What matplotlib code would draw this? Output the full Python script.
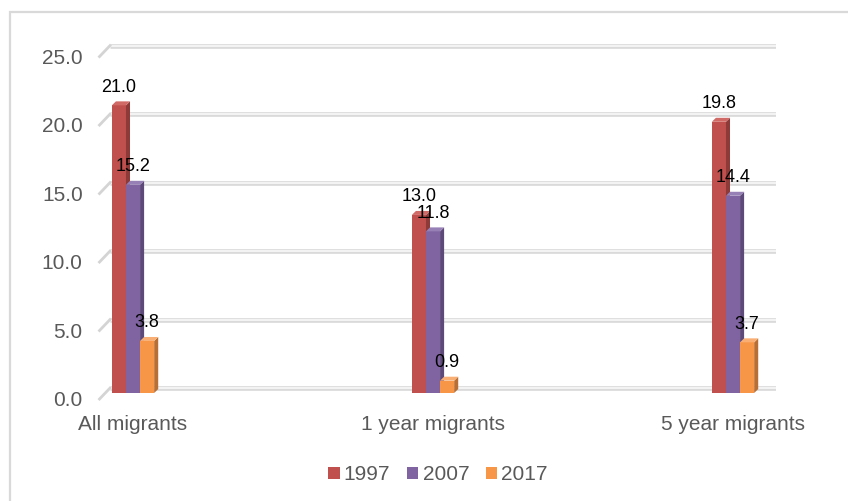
import matplotlib
matplotlib.use("Agg")
import matplotlib.pyplot as plt
from matplotlib.patches import Polygon, Rectangle, Patch
from matplotlib.transforms import ScaledTranslation
import numpy as np

plt.rcParams['font.family'] = ['Liberation Sans', 'DejaVu Sans']

categories = ['All migrants', '1 year migrants', '5 year migrants']
years = ['1997', '2007', '2017']
v1997 = [21.0, 13.0, 19.8]
v2007 = [15.2, 11.8, 14.4]
v2017 = [3.8, 0.9, 3.7]
yticks = [0, 5, 10, 15, 20, 25]

front = ['#C0504D', '#8064A2', '#F79646']
side = ['#8E3A38', '#5E4A7A', '#B96F33']
top = ['#D06A67', '#9680B5', '#F9AE73']

W, H = 848, 501
fig = plt.figure(figsize=(W / 100, H / 100), dpi=100)

# axes in pixel terms: x 98..776, y 40..405
ax = fig.add_axes([98 / W, (H - 405) / H, (776 - 98) / W, (405 - 40) / H])
ax.set_xlim(-0.1167, 2.1433)
ax.set_ylim(-0.876, 25.77)
for s in ax.spines.values():
    s.set_visible(False)

# back-wall gridlines with little diagonal stubs at the left
gx0, gback = -0.1167, -0.0767
for v in yticks:
    ax.plot([gback, 2.1433], [v + 0.36, v + 0.36], color='#dadada', lw=3.4,
            solid_capstyle='butt', zorder=1)
    ax.plot([gback, 2.1433], [v + 0.36, v + 0.36], color='#f4f4f4', lw=1.4,
            solid_capstyle='butt', zorder=1)
    ax.plot([gx0 + 0.005, gback], [v - 0.44, v + 0.36], color='#d4d4d4', lw=2,
            zorder=1, clip_on=False)

w = 0.047
dx, dy = 0.0135, 0.29
x = np.arange(len(categories))
series = [v1997, v2007, v2017]
for k, vals in enumerate(series):
    xs = x + (k - 1) * w
    for xc, h in zip(xs, vals):
        l, r = xc - w / 2, xc + w / 2
        z = 3 + k
        ax.add_patch(Rectangle((l, 0), w, h, facecolor=front[k], edgecolor='none', zorder=z))
        ax.add_patch(Polygon([(r, 0), (r + dx, dy), (r + dx, h + dy), (r, h)],
                             closed=True, facecolor=side[k], edgecolor='none', zorder=z))
        ax.add_patch(Polygon([(l, h), (l + dx, h + dy), (r + dx, h + dy), (r, h)],
                             closed=True, facecolor=top[k], edgecolor='none', zorder=z))
        ax.annotate('%.1f' % h, (xc, h), xytext=(0, 7), textcoords='offset points',
                    ha='center', va='bottom', fontsize=13, color='black', zorder=10)

ax.set_yticks(yticks)
ax.set_yticklabels(['%.1f' % v for v in yticks])
ax.set_xticks(x)
ax.set_xticklabels(categories)
ax.tick_params(axis='y', length=0, pad=11, labelsize=15, labelcolor='#595959')
ax.tick_params(axis='x', length=0, pad=7, labelsize=15, labelcolor='#595959')
for lab in ax.get_yticklabels():
    lab.set_transform(lab.get_transform() + ScaledTranslation(0, -4 / 72, fig.dpi_scale_trans))

handles = [Patch(facecolor=front[k], edgecolor='none') for k in range(3)]
fig.legend(handles, years, loc='center', bbox_to_anchor=(438 / W, 1 - 475 / H),
           ncol=3, frameon=False, fontsize=15, labelcolor='#595959',
           handlelength=0.55, handleheight=0.55, handletextpad=0.2, columnspacing=0.8)

# chart area border (only left and top are inside the picture)
fig.add_artist(Rectangle((10 / W, -0.1), 1.2, 1 - 12 / H + 0.1, transform=fig.transFigure,
                         fill=False, edgecolor='#d9d9d9', lw=1.6))

fig.savefig('out.png', dpi=100)
